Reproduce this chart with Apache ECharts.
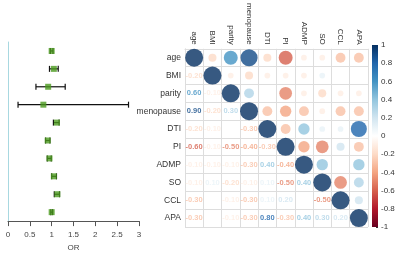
<!DOCTYPE html>
<html>
<head>
<meta charset="utf-8">
<script src="https://cdn.jsdelivr.net/npm/echarts@6/dist/echarts.min.js"></script>
<style>
  html, body { margin: 0; padding: 0; background: #fff; }
  #chart { width: 400px; height: 257px; }
</style>
</head>
<body>
<div id="chart"></div>
<script>
var vars = ["age", "BMI", "parity", "menopause", "DTI", "PI", "ADMP", "SO", "CCL", "APA"];

// forest plot (odds ratios with 95% CI)
var orVal = [1.00, 1.05, 0.92, 0.81, 1.12, 0.91, 0.95, 1.05, 1.13, 1.00];
var orLo = [0.97, 0.95, 0.64, 0.23, 1.04, 0.86, 0.90, 1.00, 1.06, 0.98];
var orHi = [1.03, 1.15, 1.31, 2.76, 1.17, 0.96, 0.99, 1.11, 1.18, 1.02];
var orTicks = [0, 0.5, 1, 1.5, 2, 2.5, 3];

// correlation matrix, lower triangle by row
var corrRows = [
  [1],
  [-0.2, 1],
  [0.6, -0.1, 1],
  [0.9, -0.2, 0.3, 1],
  [-0.2, -0.1, 0, -0.3, 1],
  [-0.6, -0.1, -0.5, -0.4, -0.3, 1],
  [-0.1, -0.1, -0.1, -0.3, 0.4, -0.4, 1],
  [-0.1, 0.1, -0.2, -0.1, 0.1, -0.5, 0.4, 1],
  [-0.3, 0, -0.1, -0.3, 0.1, 0.2, 0, -0.5, 1],
  [-0.3, 0, -0.1, -0.3, 0.8, -0.3, 0.4, 0.3, 0.2, 1]
];
var barTicks = [-1, -0.8, -0.6, -0.4, -0.2, 0, 0.2, 0.4, 0.6, 0.8, 1];

var palette = ["#67001F", "#B2182B", "#D6604D", "#F4A582", "#FDDBC7", "#FFFFFF",
  "#D1E5F0", "#92C5DE", "#4393C3", "#2166AC", "#053061"];

function hex(c) {
  return [parseInt(c.substr(1, 2), 16), parseInt(c.substr(3, 2), 16), parseInt(c.substr(5, 2), 16)];
}
function corrColor(r) {
  var t = (r + 1) / 2 * (palette.length - 1);
  var i = Math.min(Math.floor(t), palette.length - 2);
  var f = t - i;
  var a = hex(palette[i]), b = hex(palette[i + 1]);
  var c = a.map(function (v, k) { return Math.round(v + (b[k] - v) * f); });
  return "rgb(" + c.join(",") + ")";
}

var circles = [];
var texts = [];
for (var i = 0; i < vars.length; i++) {
  for (var j = 0; j < vars.length; j++) {
    var r = j <= i ? corrRows[i][j] : corrRows[j][i];
    if (j >= i) {
      circles.push({ value: [j, i, r], itemStyle: { color: corrColor(r) } });
    } else {
      texts.push({ value: [j, i, r], label: { color: corrColor(r) } });
    }
  }
}

var forestData = vars.map(function (v, k) { return [orLo[k], orHi[k], k]; });
var pointData = vars.map(function (v, k) { return [orVal[k], k]; });

var fontFam = "Liberation Sans, Arial, sans-serif";
var chart = echarts.init(document.getElementById("chart"));
var option = {
  animation: false,
  textStyle: { fontFamily: fontFam },
  grid: [
    { left: 8, top: 42, width: 131, height: 186 },
    { left: 185, top: 43, width: 183, height: 184 },
    { left: 372, top: 45, width: 6, height: 182 }
  ],
  xAxis: [
    {
      gridIndex: 0, type: "value", min: 0, max: 3, interval: 0.5,
      name: "OR", nameLocation: "middle", nameGap: 22,
      nameTextStyle: { fontSize: 8, color: "#444" },
      axisLine: { show: true, lineStyle: { color: "#555" } },
      axisTick: { show: true, length: 5, lineStyle: { color: "#555" } },
      axisLabel: { fontSize: 8, color: "#444", margin: 10 },
      splitLine: { show: false }
    },
    {
      gridIndex: 1, type: "category", data: vars, position: "top",
      axisLine: { show: true, lineStyle: { color: "#ddd" } },
      axisTick: { show: false },
      axisLabel: { rotate: 90, fontSize: 8, color: "#333", margin: 4, interval: 0 },
      splitLine: { show: true, interval: 0, lineStyle: { color: "#ddd" } }
    },
    {
      gridIndex: 2, type: "category", data: [""], show: false
    }
  ],
  yAxis: [
    {
      gridIndex: 0, type: "category", data: vars, inverse: true,
      axisLine: { show: true, lineStyle: { color: "#a8d8e0" } },
      axisTick: { show: false },
      axisLabel: { show: false }
    },
    {
      gridIndex: 1, type: "category", data: vars, inverse: true,
      axisLine: { show: true, lineStyle: { color: "#ddd" } },
      axisTick: { show: false },
      axisLabel: { fontSize: 8.5, color: "#333", margin: 4, interval: 0 },
      splitLine: { show: true, interval: 0, lineStyle: { color: "#ddd" } }
    },
    {
      gridIndex: 2, type: "value", min: -1, max: 1, interval: 0.2, position: "right",
      axisLine: { show: false },
      axisTick: { show: true, inside: true, length: 2, lineStyle: { color: "#333" } },
      axisLabel: {
        fontSize: 8, color: "#333", margin: 3,
        formatter: function (v) { return String(Math.round(v * 10) / 10); }
      },
      splitLine: { show: false }
    }
  ],
  series: [
    {
      type: "custom", xAxisIndex: 0, yAxisIndex: 0, data: forestData,
      renderItem: function (params, api) {
        var a = api.coord([api.value(0), api.value(2)]);
        var b = api.coord([api.value(1), api.value(2)]);
        var h = 3;
        var st = { stroke: "#111", lineWidth: 1.2 };
        return {
          type: "group",
          children: [
            { type: "line", shape: { x1: a[0], y1: a[1], x2: b[0], y2: b[1] }, style: st },
            { type: "line", shape: { x1: a[0], y1: a[1] - h, x2: a[0], y2: a[1] + h }, style: st },
            { type: "line", shape: { x1: b[0], y1: b[1] - h, x2: b[0], y2: b[1] + h }, style: st }
          ]
        };
      }
    },
    {
      type: "scatter", xAxisIndex: 0, yAxisIndex: 0, data: pointData,
      symbol: "rect", symbolSize: 6,
      itemStyle: { color: "#4b9a1e" }
    },
    {
      type: "scatter", xAxisIndex: 1, yAxisIndex: 1, data: circles,
      symbolSize: function (val) { return 18 * Math.sqrt(Math.abs(val[2])); }
    },
    {
      type: "scatter", xAxisIndex: 1, yAxisIndex: 1, data: texts,
      symbolSize: 0,
      label: {
        show: true, position: "inside", fontSize: 7.5, fontWeight: "bold",
        fontFamily: fontFam,
        formatter: function (p) { return p.value[2].toFixed(2); }
      }
    },
    {
      type: "custom", xAxisIndex: 2, yAxisIndex: 2, data: [[0, -1, 1]],
      renderItem: function (params, api) {
        var lo = api.coord([0, api.value(1)]);
        var hi = api.coord([0, api.value(2)]);
        var w = api.size([1, 0])[0];
        var stops = palette.map(function (c, k) {
          return { offset: 1 - k / (palette.length - 1), color: c };
        });
        return {
          type: "rect",
          shape: { x: lo[0] - w / 2, y: hi[1], width: w, height: lo[1] - hi[1] },
          style: { fill: new echarts.graphic.LinearGradient(0, 0, 0, 1, stops) }
        };
      }
    }
  ]
};
chart.setOption(option);
</script>
</body>
</html>
